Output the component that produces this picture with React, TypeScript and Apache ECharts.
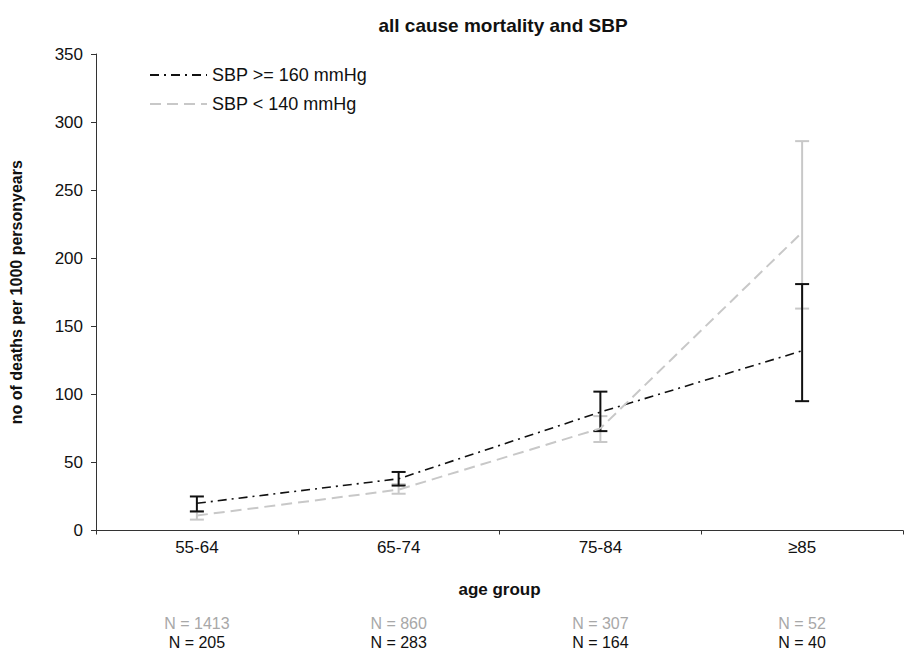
import React, { useEffect, useRef } from "react";
import * as echarts from "echarts";

const categories = ["55-64", "65-74", "75-84", "≥85"];
const highSbpRate = [20, 38, 87, 132];
const highSbpLower = [14, 33, 73, 95];
const highSbpUpper = [25, 43, 102, 181];
const lowSbpRate = [11, 30, 75, 219];
const lowSbpLower = [8, 27, 65, 163];
const lowSbpUpper = [14, 34, 84, 286];
const nLowSbp = [1413, 860, 307, 52];
const nHighSbp = [205, 283, 164, 40];
const yTicks = { min: 0, max: 350, interval: 50 };

const FONT = "'Liberation Sans', Arial, Helvetica, sans-serif";
const BLACK = "#111111";
const GREY = "#c8c8c8";

function errorBarSeries(name: string, lower: number[], upper: number[], color: string) {
  return {
    type: "custom",
    name,
    silent: true,
    z: 3,
    data: categories.map((_, i) => [i, lower[i], upper[i]]),
    renderItem: (params: any, api: any) => {
      const lo = api.coord([api.value(0), api.value(1)]);
      const hi = api.coord([api.value(0), api.value(2)]);
      const hw = 7;
      const style = { stroke: color, lineWidth: 2 };
      return {
        type: "group",
        children: [
          { type: "line", shape: { x1: lo[0], y1: lo[1], x2: hi[0], y2: hi[1] }, style },
          { type: "line", shape: { x1: lo[0] - hw, y1: lo[1], x2: lo[0] + hw, y2: lo[1] }, style },
          { type: "line", shape: { x1: hi[0] - hw, y1: hi[1], x2: hi[0] + hw, y2: hi[1] }, style },
        ],
      };
    },
  };
}

export default function App() {
  const ref = useRef<HTMLDivElement>(null);
  useEffect(() => {
    document.body.style.margin = "0";
    const chart = echarts.init(ref.current!, undefined, { renderer: "svg" });
    chart.setOption({
      animation: false,
      backgroundColor: "#ffffff",
      textStyle: { fontFamily: FONT },
      title: {
        text: "all cause mortality and SBP",
        left: 498,
        textAlign: "center",
        top: 11,
        textStyle: { fontFamily: FONT, fontSize: 19, fontWeight: "bold", color: BLACK },
      },
      legend: {
        orient: "vertical",
        left: 144,
        top: 61,
        itemWidth: 57,
        itemHeight: 17,
        itemGap: 11,
        itemStyle: { opacity: 0 },
        data: ["SBP >= 160 mmHg", "SBP < 140 mmHg"],
        textStyle: { fontFamily: FONT, fontSize: 18, color: BLACK },
      },
      grid: { left: 92, right: 3, top: 54, bottom: 119 },
      xAxis: [
        {
          type: "category",
          data: categories,
          boundaryGap: true,
          name: "age group",
          nameLocation: "middle",
          nameGap: 50,
          nameTextStyle: { fontFamily: FONT, fontSize: 17, fontWeight: "bold", color: BLACK },
          axisLine: { lineStyle: { color: "#333333", width: 1 } },
          axisTick: { show: true, length: 4, lineStyle: { color: "#333333" } },
          axisLabel: { fontFamily: FONT, fontSize: 17, color: BLACK, margin: 8 },
        },
        {
          type: "category",
          data: categories,
          position: "bottom",
          offset: 76,
          axisLine: { show: false },
          axisTick: { show: false },
          axisLabel: {
            margin: 7,
            formatter: (_v: string, i: number) => `{g|N = ${nLowSbp[i]}}\n{b|N = ${nHighSbp[i]}}`,
            rich: {
              g: { fontFamily: FONT, fontSize: 16, color: "#a8a8a8", lineHeight: 19 },
              b: { fontFamily: FONT, fontSize: 16, color: BLACK, lineHeight: 19 },
            },
          },
        },
      ],
      yAxis: {
        type: "value",
        min: yTicks.min,
        max: yTicks.max,
        interval: yTicks.interval,
        name: "no of deaths per 1000 personyears",
        nameLocation: "middle",
        nameGap: 72,
        nameTextStyle: { fontFamily: FONT, fontSize: 16, fontWeight: "bold", color: BLACK },
        axisLine: { show: true, lineStyle: { color: "#333333", width: 1 } },
        axisTick: { show: true, length: 5, lineStyle: { color: "#333333" } },
        axisLabel: { fontFamily: FONT, fontSize: 17, color: BLACK, margin: 13 },
        splitLine: { show: false },
      },
      series: [
        errorBarSeries("lowErr", lowSbpLower, lowSbpUpper, GREY),
        errorBarSeries("highErr", highSbpLower, highSbpUpper, BLACK),
        {
          type: "line",
          name: "SBP >= 160 mmHg",
          data: highSbpRate,
          symbol: "none",
          z: 4,
          lineStyle: { color: BLACK, width: 1.6, type: [9, 5, 2, 5] },
          itemStyle: { color: BLACK },
        },
        {
          type: "line",
          name: "SBP < 140 mmHg",
          data: lowSbpRate,
          symbol: "none",
          z: 4,
          lineStyle: { color: GREY, width: 2, type: [11, 6] },
          itemStyle: { color: GREY },
        },
      ],
    });
    return () => chart.dispose();
  }, []);
  return <div ref={ref} style={{ width: 906, height: 650 }} />;
}
